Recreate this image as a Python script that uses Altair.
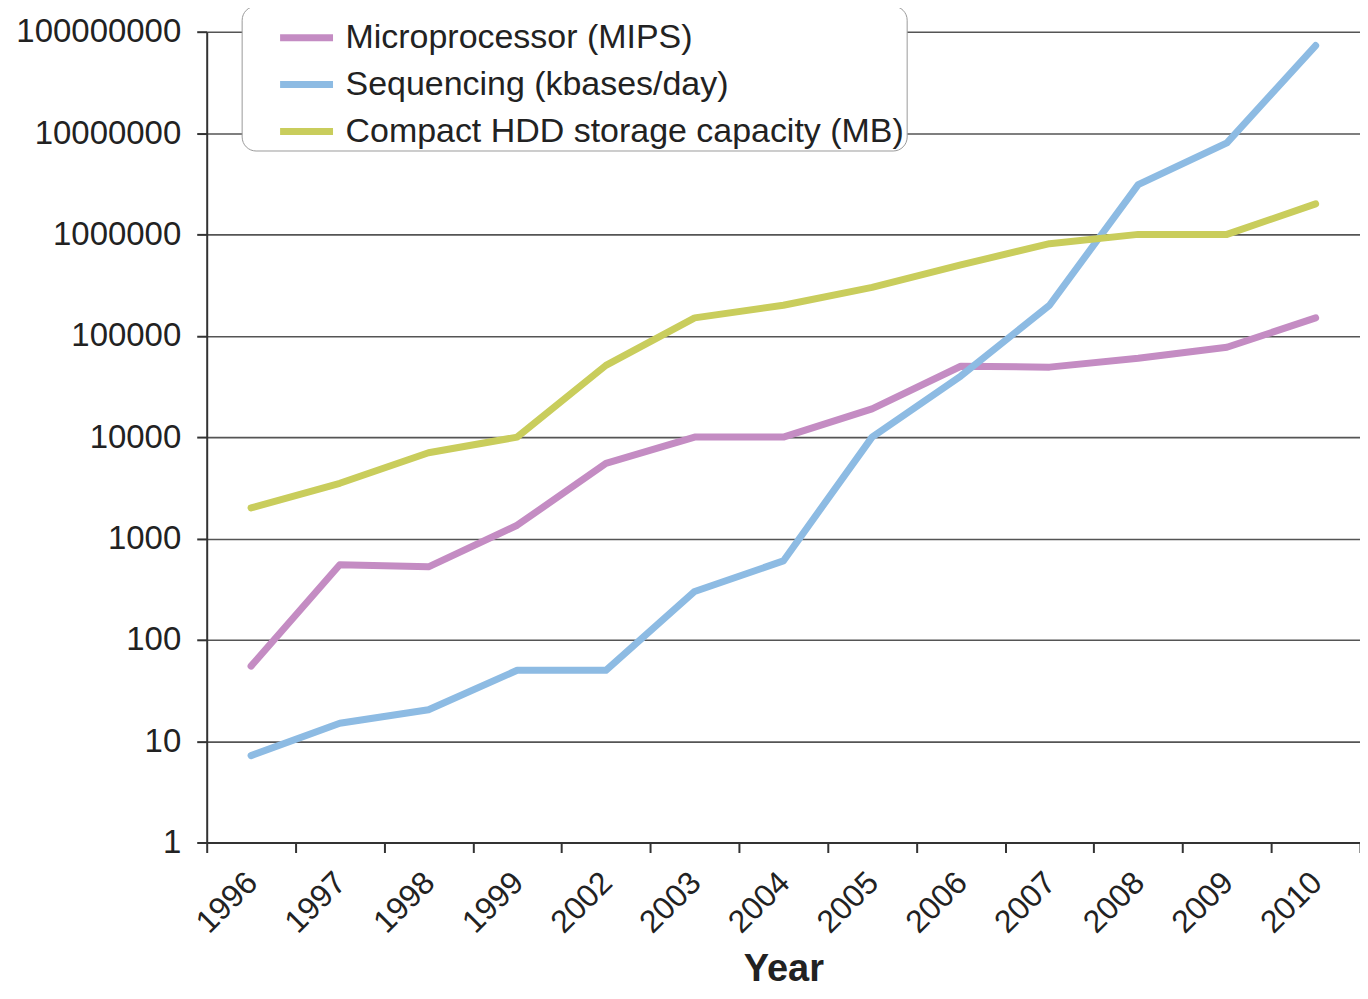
import altair as alt
import pandas as pd

years = ["1996", "1997", "1998", "1999", "2002", "2003", "2004",
         "2005", "2006", "2007", "2008", "2009", "2010"]
series_names = ["Microprocessor (MIPS)", "Sequencing (kbases/day)",
                "Compact HDD storage capacity (MB)"]
microprocessor = [55, 550, 525, 1350, 5500, 10000, 10000, 19000, 50000,
                  49000, 60000, 77000, 150000]
sequencing = [7.2, 15, 20.4, 50, 50, 300, 600, 10000, 40000, 200000,
              3100000, 8000000, 73000000]
hdd = [2000, 3500, 7000, 10000, 51000, 150000, 200000, 300000, 500000,
       810000, 1000000, 1000000, 2000000]
colors = ["#c48cc3", "#8dbbe3", "#c9cd5c"]
widths = [7, 7, 5]
y_ticks = [1, 10, 100, 1000, 10000, 100000, 1000000, 10000000, 100000000]

rows = []
for name, vals in zip(series_names, [microprocessor, sequencing, hdd]):
    for i, (yr, v) in enumerate(zip(years, vals)):
        rows.append({"Year": yr, "value": v, "series": name, "order": i})
df = pd.DataFrame(rows)

FONT = "Liberation Sans"

chart = alt.Chart(df).mark_line(strokeCap="round", strokeJoin="round").encode(
    x=alt.X("Year:N", sort=years, bandPosition=0.5,
            scale=alt.Scale(type="band", paddingInner=0, paddingOuter=0),
            axis=alt.Axis(title="Year", labelAngle=-45, tickBand="extent",
                          labelAlign="right", labelBaseline="top",
                          labelFontSize=32, labelPadding=14, tickSize=10,
                          labelOffset=-10,
                          titleFontSize=38, titleFontWeight="bold",
                          titleY=146, titleBaseline="bottom",
                          grid=False)),
    y=alt.Y("value:Q",
            scale=alt.Scale(type="log", domain=[1, 100000000], nice=False),
            axis=alt.Axis(title=None, values=y_ticks, format="d",
                          labelFontSize=33, labelPadding=16, tickSize=10,
                          grid=True, gridColor="#555555", gridWidth=1.6,
                          gridOpacity=1)),
    color=alt.Color("series:N", title=None,
                    scale=alt.Scale(domain=series_names, range=colors),
                    legend=alt.Legend(orient="none", legendX=35, legendY=-26,
                                      fillColor="white", strokeColor="#9a9a9a",
                                      cornerRadius=14, padding=2,
                                      symbolType="stroke", symbolSize=2809,
                                      symbolStrokeWidth=5, symbolOffset=33,
                                      labelFontSize=34, labelOffset=9,
                                      labelLimit=800, rowPadding=0,
                                      labelFont=FONT, labelColor="#222222")),
    strokeWidth=alt.StrokeWidth("series:N",
                                scale=alt.Scale(domain=series_names, range=widths),
                                legend=None),
    order="order:Q",
).properties(
    width=1155, height=812,
    autosize=alt.AutoSizeParams(type="none"),
    padding={"left": 199, "top": 23, "right": 0, "bottom": 148},
).configure_axis(
    labelFont=FONT, titleFont=FONT, labelColor="#222222", titleColor="#222222",
    domainColor="#333333", domainWidth=2, tickColor="#333333", tickWidth=2,
).configure_view(stroke=None)

chart.save("out.html", embed_options={"renderer": "svg", "actions": False})
